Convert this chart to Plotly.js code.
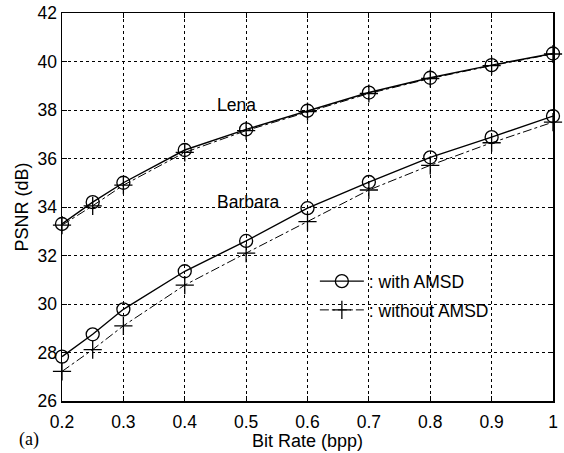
<!DOCTYPE html>
<html>
<head>
<meta charset="utf-8">
<script src="https://cdn.plot.ly/plotly-3.0.1.min.js"></script>
<style>html,body{margin:0;padding:0;background:#fff;}#chart{width:564px;height:453px;}</style>
</head>
<body>
<div id="chart"></div>
<script>
const bitRate = [0.2, 0.25, 0.3, 0.4, 0.5, 0.6, 0.7, 0.8, 0.9, 1.0];
const lenaWith = [33.3, 34.2, 35.0, 36.35, 37.2, 37.97, 38.72, 39.33, 39.85, 40.33];
const lenaWithout = [33.25, 34.05, 34.9, 36.25, 37.15, 37.93, 38.68, 39.3, 39.83, 40.31];
const barbaraWith = [27.83, 28.75, 29.78, 31.35, 32.6, 33.95, 35.03, 36.05, 36.88, 37.75];
const barbaraWithout = [27.22, 28.12, 29.1, 30.78, 32.1, 33.4, 34.7, 35.72, 36.65, 37.5];
const xTickVals = [0.2, 0.3, 0.4, 0.5, 0.6, 0.7, 0.8, 0.9, 1.0];
const xTickText = ['0.2', '0.3', '0.4', '0.5', '0.6', '0.7', '0.8', '0.9', '1'];
const yTickVals = [26, 28, 30, 32, 34, 36, 38, 40, 42];
const legendNames = [': with AMSD', ': without AMSD'];
const curveLabels = ['Lena', 'Barbara'];

const FONT = 'Liberation Sans, Arial, sans-serif';
const withStyle = {
  mode: 'lines+markers',
  line: {color: '#000', width: 1.4, dash: 'solid'},
  marker: {symbol: 'circle-open', size: 13, color: '#000', line: {width: 1.3, color: '#000'}},
  cliponaxis: false
};
const withoutStyle = {
  mode: 'lines+markers',
  line: {color: '#000', width: 1, dash: 'dashdot'},
  marker: {symbol: 'cross-thin-open', size: 13, color: '#000', line: {width: 1.3, color: '#000'}},
  cliponaxis: false
};

const traces = [
  Object.assign({x: bitRate, y: lenaWith, name: legendNames[0], legendgroup: 'a', showlegend: true}, withStyle),
  Object.assign({x: bitRate, y: lenaWithout, name: legendNames[1], legendgroup: 'b', showlegend: true}, withoutStyle),
  Object.assign({x: bitRate, y: barbaraWith, name: legendNames[0], legendgroup: 'a', showlegend: false}, withStyle),
  Object.assign({x: bitRate, y: barbaraWithout, name: legendNames[1], legendgroup: 'b', showlegend: false}, withoutStyle)
];

const axisCommon = {
  showline: true, linecolor: '#000', linewidth: 1.5, mirror: 'ticks',
  ticks: 'inside', ticklen: 5, tickwidth: 1, tickcolor: '#000',
  showgrid: true, gridcolor: '#000', gridwidth: 1, griddash: 'dot',
  zeroline: false,
  tickfont: {family: FONT, size: 17.5, color: '#000'}
};

const layout = {
  width: 564, height: 453,
  margin: {l: 62, r: 11, t: 13, b: 52},
  paper_bgcolor: '#fff', plot_bgcolor: '#fff',
  font: {family: FONT, size: 17, color: '#000'},
  xaxis: Object.assign({}, axisCommon, {
    range: [0.2, 1.0], tickmode: 'array', tickvals: xTickVals, ticktext: xTickText,
    ticklabelstandoff: 4,
    title: {text: 'Bit Rate (bpp)', font: {family: FONT, size: 18, color: '#000'}, standoff: 0}
  }),
  yaxis: Object.assign({}, axisCommon, {
    range: [26, 42], tickmode: 'array', tickvals: yTickVals,
    title: {text: 'PSNR (dB)', font: {family: FONT, size: 18, color: '#000'}, standoff: 4}
  }),
  legend: {
    x: 0.515, y: 0.355, xanchor: 'left', yanchor: 'top',
    bgcolor: 'rgba(0,0,0,0)', borderwidth: 0, itemwidth: 44,
    font: {family: FONT, size: 17.5, color: '#000'},
    traceorder: 'grouped', tracegroupgap: 3
  },
  annotations: [
    {text: curveLabels[0], x: 0.45, y: 38.21, xref: 'x', yref: 'y', xanchor: 'left', yanchor: 'middle', showarrow: false, font: {family: FONT, size: 17.5, color: '#000'}},
    {text: curveLabels[1], x: 0.45, y: 34.21, xref: 'x', yref: 'y', xanchor: 'left', yanchor: 'middle', showarrow: false, font: {family: FONT, size: 17.5, color: '#000'}},
    {text: '(a)', x: -0.0916, y: -0.098, xref: 'paper', yref: 'paper', xanchor: 'left', yanchor: 'middle', showarrow: false, font: {family: 'Liberation Serif, Times New Roman, serif', size: 18, color: '#000'}}
  ],
  showlegend: true
};

Plotly.newPlot('chart', traces, layout, {displayModeBar: false, staticPlot: true});
</script>
</body>
</html>
